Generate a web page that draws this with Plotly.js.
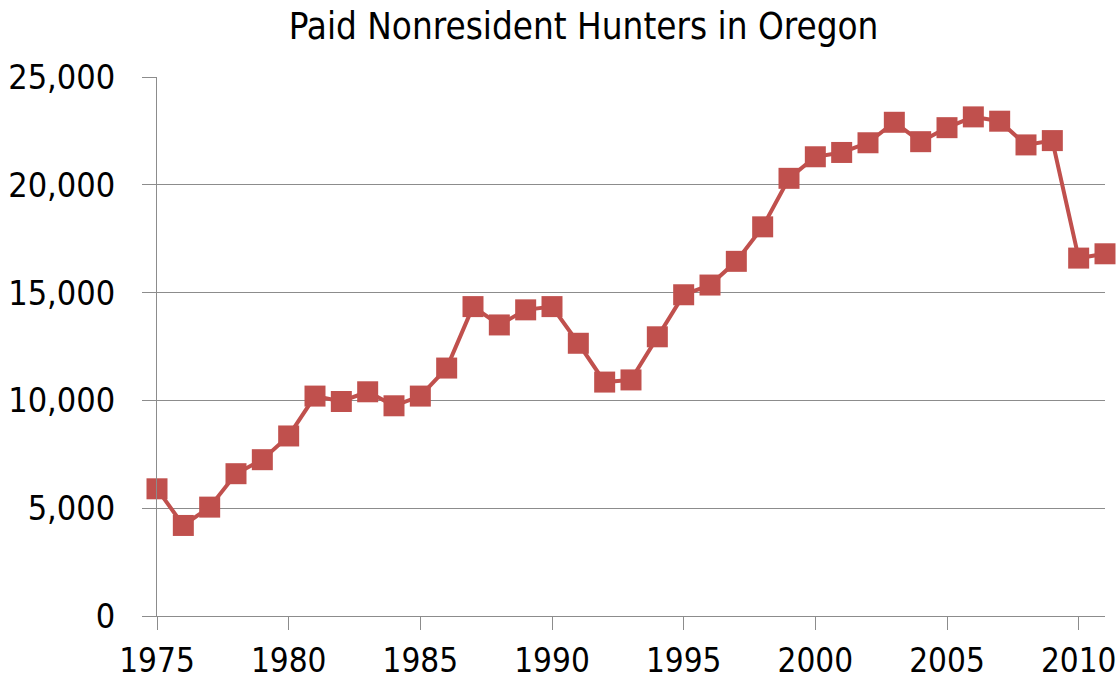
<!DOCTYPE html>
<html>
<head>
<meta charset="utf-8">
<script src="https://cdn.plot.ly/plotly-3.0.1.min.js"></script>
<style>html,body{margin:0;padding:0;background:#fff;}#chart{width:1120px;height:683px;}</style>
</head>
<body>
<div id="chart"></div>
<script>
const years = [1975,1976,1977,1978,1979,1980,1981,1982,1983,1984,1985,1986,1987,1988,1989,1990,1991,1992,1993,1994,1995,1996,1997,1998,1999,2000,2001,2002,2003,2004,2005,2006,2007,2008,2009,2010,2011];
const hunters = [5900,4200,5050,6600,7250,8350,10200,9950,10400,9750,10200,11500,14350,13500,14200,14350,12650,10850,10950,12950,14900,15350,16450,18050,20300,21300,21500,21950,22900,22000,22650,23150,22950,21850,22050,16600,16800];
const xTicks = [1975,1980,1985,1990,1995,2000,2005,2010];
const yTicks = [0,5000,10000,15000,20000,25000];
const yTickText = ["0","5,000","10,000","15,000","20,000","25,000"];

const font = "DejaVu Sans Condensed, DejaVu Sans, sans-serif";
Plotly.newPlot('chart', [{
  x: years, y: hunters, type: 'scatter', mode: 'lines+markers',
  line: {color: '#C0504D', width: 4},
  marker: {symbol: 'square', size: 21, color: '#C0504D'},
  cliponaxis: false, showlegend: false
}], {
  width: 1120, height: 683,
  margin: {l: 157, r: 15, t: 77, b: 67},
  paper_bgcolor: '#fff', plot_bgcolor: '#fff',
  title: {text: 'Paid Nonresident Hunters in Oregon', font: {family: font, size: 36.5, color: '#000'}, x: 0.521, xanchor: 'center', y: 0.961, yanchor: 'middle'},
  xaxis: {range: [1975, 2011], tickvals: xTicks, ticktext: xTicks.map(String),
    ticks: 'outside', ticklen: 13, tickcolor: '#8c8c8c', tickwidth: 1, ticklabelstandoff: 2,
    showline: true, linecolor: '#8c8c8c', linewidth: 1, showgrid: false, zeroline: false,
    tickfont: {family: font, size: 33, color: '#000'}},
  yaxis: {range: [0, 25000], tickvals: yTicks, ticktext: yTickText,
    ticks: 'outside', ticklen: 14, tickcolor: '#8c8c8c', tickwidth: 1, ticklabelstandoff: 20,
    showline: true, linecolor: '#8c8c8c', linewidth: 1,
    showgrid: true, gridcolor: '#8c8c8c', gridwidth: 1, zeroline: false,
    tickfont: {family: font, size: 34, color: '#000'}}
}, {displayModeBar: false, staticPlot: true});
</script>
</body>
</html>
